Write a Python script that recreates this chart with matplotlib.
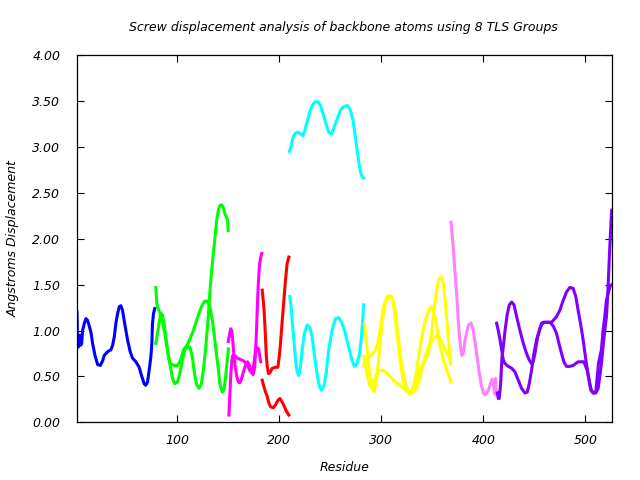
import matplotlib
matplotlib.use("Agg")
import matplotlib.pyplot as plt

# ------------------------------------------------------------
# Datos (residuo, desplazamiento en A)
# ------------------------------------------------------------

blue_x = [2, 2.5, 3.3, 4.3, 5.0, 5.6, 6.6, 7.5, 9.2, 10.8, 12.4, 14.0, 15.7, 17.3, 19.6,
          22.2, 24.8, 27.1, 28.7, 32.0, 35.2, 36.9, 38.5, 40.1, 41.7, 43.4, 45.0, 46.6,
          48.2, 49.9, 51.5, 54.1, 56.4, 59.7, 62.9, 65.2, 67.8, 69.4, 71.1, 72.7, 74.3,
          75.3, 75.9, 76.9, 78.2]
blue_y = [1.20, 0.95, 0.82, 0.85, 0.95, 0.84, 0.86, 1.00, 1.08, 1.13, 1.11, 1.05, 0.98,
          0.86, 0.73, 0.63, 0.62, 0.67, 0.73, 0.77, 0.79, 0.84, 0.93, 1.08, 1.18, 1.26,
          1.27, 1.22, 1.11, 1.00, 0.90, 0.77, 0.70, 0.66, 0.60, 0.51, 0.42, 0.405, 0.44,
          0.57, 0.71, 0.86, 1.07, 1.185, 1.24]

green1_x = [79.2, 80.2, 81.5, 83.4, 85.7, 88.0, 90.6, 92.9, 95.5, 97.8, 100.4, 103.0,
            105.3, 107.5, 110.1, 112.7, 115.0, 116.6, 119.2, 121.5, 123.8, 125.8, 128.1,
            130.3, 132.3, 133.6, 135.5, 137.2, 138.8, 140.4, 142.0, 143.7, 145.3, 146.9,
            148.2, 149.5, 150.0]
green1_y = [1.47, 1.29, 1.24, 1.19, 1.09, 0.97, 0.79, 0.64, 0.48, 0.42, 0.44, 0.55, 0.68,
            0.79, 0.82, 0.82, 0.71, 0.57, 0.41, 0.37, 0.42, 0.57, 0.82, 1.11, 1.44, 1.62,
            1.84, 2.02, 2.20, 2.31, 2.36, 2.37, 2.34, 2.27, 2.24, 2.20, 2.09]

green2_x = [79.2, 80.8, 82.4, 84.1, 85.7, 87.3, 89.0, 90.6, 92.2, 93.8, 97.1, 100.4,
            103.6, 106.2, 108.5, 110.8, 113.4, 116.0, 118.3, 121.5, 124.8, 127.1, 129.7,
            131.3, 132.9, 134.6, 136.2, 138.1, 140.1, 142.0, 144.3, 145.9, 147.6, 149.2,
            150.2]
green2_y = [0.86, 0.97, 1.08, 1.19, 1.17, 1.08, 0.93, 0.79, 0.68, 0.64, 0.62, 0.62, 0.68,
            0.79, 0.82, 0.86, 0.93, 1.00, 1.08, 1.19, 1.28, 1.32, 1.32, 1.29, 1.22, 1.11,
            0.97, 0.79, 0.61, 0.42, 0.33, 0.35, 0.50, 0.68, 0.80]

magenta1_x = [150.8, 151.5, 152.3, 153.2, 154.2, 155.5, 157.0, 159.0, 161.0, 163.0, 165.0,
              167.0, 169.0, 171.0, 173.0, 174.5, 176.0, 177.0, 178.0, 179.0, 180.0, 181.0,
              182.0]
magenta1_y = [0.08, 0.25, 0.45, 0.62, 0.72, 0.74, 0.72, 0.70, 0.69, 0.68, 0.67, 0.65, 0.62,
              0.57, 0.54, 0.58, 0.70, 0.80, 0.82, 0.78, 0.80, 0.72, 0.66]

magenta2_x = [150.2, 151.2, 152.5, 153.5, 154.5, 155.5, 157.0, 158.5, 160.0, 161.5, 163.0,
              165.0, 167.0, 169.0, 171.0, 173.0, 174.5, 176.0, 177.0, 178.0, 178.7, 179.5,
              180.8, 182.0, 183.0]
magenta2_y = [0.88, 0.95, 1.02, 1.00, 0.90, 0.75, 0.60, 0.50, 0.44, 0.43, 0.47, 0.55, 0.62,
              0.66, 0.62, 0.55, 0.52, 0.60, 0.80, 1.05, 1.28, 1.50, 1.72, 1.80, 1.84]

red1_x = [183.4, 184.4, 185.4, 186.4, 187.3, 188.3, 189.6, 190.9, 193.2, 196.4, 198.7,
          200.0, 201.3, 203.0, 204.6, 206.2, 207.8, 209.5]
red1_y = [1.44, 1.33, 1.19, 0.97, 0.75, 0.61, 0.53, 0.54, 0.59, 0.60, 0.60, 0.71, 0.86,
          1.11, 1.33, 1.55, 1.73, 1.80]

red2_x = [183.4, 185.0, 186.7, 188.3, 189.9, 191.6, 194.2, 196.4, 198.7, 200.7, 203.0,
          205.2, 207.2, 209.5]
red2_y = [0.46, 0.39, 0.33, 0.28, 0.21, 0.17, 0.16, 0.19, 0.24, 0.26, 0.22, 0.17, 0.12,
          0.08]

cyan1_x = [210.1, 211.7, 213.7, 216.0, 218.3, 220.9, 223.1, 225.1, 227.4, 230.0, 232.3,
           234.9, 238.1, 240.4, 243.0, 245.9, 248.5, 251.2, 253.4, 256.7, 260.0, 263.2,
           267.1, 269.7, 272.3, 274.6, 276.9, 278.8, 280.5, 282.7]
cyan1_y = [2.95, 3.01, 3.11, 3.15, 3.16, 3.14, 3.12, 3.18, 3.27, 3.38, 3.45, 3.49, 3.49,
           3.45, 3.36, 3.25, 3.16, 3.14, 3.20, 3.30, 3.40, 3.44, 3.45, 3.40, 3.29, 3.11,
           2.92, 2.78, 2.69, 2.66]

cyan2_x = [210.4, 211.7, 213.0, 214.4, 216.0, 217.6, 219.2, 220.9, 222.5, 224.8, 227.4,
           230.0, 232.3, 233.9, 236.5, 238.8, 241.1, 243.7, 246.0, 248.5, 251.8, 255.1,
           258.3, 261.6, 264.8, 268.1, 271.3, 273.6, 276.2, 278.8, 280.5, 281.8, 282.7]
cyan2_y = [1.37, 1.26, 1.08, 0.90, 0.68, 0.55, 0.51, 0.61, 0.79, 0.97, 1.06, 1.04, 0.93,
           0.79, 0.57, 0.42, 0.35, 0.39, 0.53, 0.79, 1.00, 1.13, 1.14, 1.08, 0.97, 0.82,
           0.68, 0.61, 0.64, 0.75, 0.93, 1.11, 1.28]

yellow1_x = [283.4, 285.4, 287.0, 288.6, 290.9, 293.2, 295.1, 297.4, 299.0, 301.6, 303.9,
             306.2, 308.8, 310.8, 312.7, 314.7, 317.0, 319.2, 321.8, 324.4, 326.7, 329.0,
             331.6, 334.2, 336.5, 339.7, 343.0, 346.3, 349.5, 351.8, 354.4, 357.0, 360.9,
             364.2, 366.5, 368.1]
yellow1_y = [1.07, 0.89, 0.71, 0.53, 0.39, 0.33, 0.44, 0.68, 0.89, 1.15, 1.29, 1.37, 1.38,
             1.35, 1.22, 1.04, 0.82, 0.60, 0.44, 0.35, 0.32, 0.32, 0.39, 0.53, 0.71, 0.93,
             1.11, 1.22, 1.26, 1.20, 1.04, 0.86, 0.68, 0.57, 0.50, 0.44]

yellow2_x = [282.7, 286.0, 290.0, 294.0, 297.4, 299.7, 302.3, 304.9, 308.1, 310.8, 313.4,
             315.5, 318.0, 320.5, 323.0, 326.0, 329.0, 331.5, 334.0, 337.0, 340.0, 343.0,
             346.3, 349.5, 352.8, 356.0, 358.6, 360.9, 362.5, 364.2, 365.8, 367.4, 368.0]
yellow2_y = [0.64, 0.68, 0.73, 0.78, 0.89, 1.08, 1.26, 1.35, 1.38, 1.36, 1.24, 1.04, 0.80,
             0.60, 0.45, 0.35, 0.33, 0.37, 0.45, 0.55, 0.62, 0.68, 0.75, 1.00, 1.33, 1.55,
             1.59, 1.51, 1.33, 1.11, 0.90, 0.68, 0.64]

yellow3_x = [283.0, 284.5, 286.5, 288.5, 290.5, 292.5, 295.0, 298.0, 301.0, 304.0, 307.0,
             310.0, 313.0, 316.0, 319.0, 322.0, 325.0, 328.0, 331.0, 334.0, 337.0, 340.0,
             343.0, 346.0, 349.0, 352.0, 354.5, 357.0, 360.0, 363.0, 366.0, 368.0]
yellow3_y = [0.72, 0.62, 0.50, 0.40, 0.38, 0.45, 0.52, 0.56, 0.57, 0.55, 0.52, 0.48, 0.45,
             0.42, 0.40, 0.37, 0.34, 0.32, 0.32, 0.36, 0.45, 0.58, 0.72, 0.82, 0.88, 0.92,
             0.95, 0.93, 0.85, 0.78, 0.72, 0.68]

pink_x = [368.4, 370.7, 372.3, 374.0, 375.6, 377.2, 378.8, 380.4, 382.1, 385.3, 388.0,
          390.2, 392.5, 395.1, 397.7, 400.0, 402.3, 404.9, 407.5, 408.8, 410.1, 411.0,
          412.0, 412.8]
pink_y = [2.18, 1.87, 1.62, 1.37, 1.08, 0.86, 0.73, 0.75, 0.90, 1.06, 1.08, 1.00, 0.82,
          0.61, 0.42, 0.32, 0.30, 0.35, 0.44, 0.47, 0.40, 0.31, 0.48, 0.30]

purple1_x = [413.0, 414.6, 416.3, 417.9, 419.5, 421.2, 424.4, 427.7, 430.9, 434.2, 437.4,
             440.7, 443.0, 444.9, 447.2, 449.5, 452.1, 454.7, 457.0, 460.2, 463.5, 466.8,
             471.6, 474.9, 478.2, 481.4, 484.7, 487.9, 490.5, 492.8, 495.1, 497.7, 500.0,
             501.9, 503.6, 505.2, 507.5, 510.1, 512.4, 514.0, 515.6, 517.2, 518.9, 520.5,
             521.5, 522.1, 523.1, 524.1, 525.1, 525.7]
purple1_y = [1.08, 1.00, 0.90, 0.79, 0.68, 0.64, 0.61, 0.59, 0.55, 0.46, 0.37, 0.32, 0.33,
             0.42, 0.57, 0.75, 0.90, 1.00, 1.08, 1.09, 1.09, 1.09, 1.15, 1.22, 1.33, 1.42,
             1.47, 1.46, 1.37, 1.22, 1.08, 0.90, 0.71, 0.57, 0.46, 0.35, 0.32, 0.32, 0.37,
             0.50, 0.64, 0.82, 1.00, 1.15, 1.33, 1.47, 1.73, 1.98, 2.20, 2.31]

purple2_x = [413.7, 414.6, 415.5, 416.9, 418.2, 419.5, 421.2, 423.4, 425.4, 427.7, 430.0,
             432.6, 435.8, 439.1, 442.3, 444.9, 447.2, 448.8, 450.5, 453.1, 456.0, 458.6,
             461.9, 465.1, 468.4, 471.6, 474.9, 478.8, 481.4, 484.7, 487.9, 492.8, 498.3,
             501.6, 504.2, 505.8, 508.1, 510.1, 512.7, 514.0, 515.6, 517.2, 518.9, 520.5,
             522.1, 524.4, 526.0]
purple2_y = [0.32, 0.26, 0.26, 0.42, 0.71, 0.82, 1.00, 1.18, 1.28, 1.31, 1.28, 1.15, 1.00,
             0.86, 0.75, 0.68, 0.64, 0.66, 0.75, 0.93, 1.04, 1.09, 1.09, 1.09, 1.05, 0.97,
             0.82, 0.66, 0.61, 0.61, 0.62, 0.66, 0.66, 0.57, 0.42, 0.35, 0.32, 0.33, 0.64,
             0.71, 0.79, 1.00, 1.15, 1.33, 1.40, 1.49, 1.50]

grupos = [
    (blue_x, blue_y, "#0000ff"),
    (green1_x, green1_y, "#00ff00"),
    (green2_x, green2_y, "#00ff00"),
    (magenta1_x, magenta1_y, "#ff00ff"),
    (magenta2_x, magenta2_y, "#ff00ff"),
    (red1_x, red1_y, "#ff0000"),
    (red2_x, red2_y, "#ff0000"),
    (cyan1_x, cyan1_y, "#00ffff"),
    (cyan2_x, cyan2_y, "#00ffff"),
    (yellow1_x, yellow1_y, "#ffff00"),
    (yellow2_x, yellow2_y, "#ffff00"),
    (yellow3_x, yellow3_y, "#ffff00"),
    (pink_x, pink_y, "#ff80ff"),
    (purple1_x, purple1_y, "#8000ff"),
    (purple2_x, purple2_y, "#8000ff"),
]

x_ticks = [100, 200, 300, 400, 500]
y_ticks = [0.0, 0.5, 1.0, 1.5, 2.0, 2.5, 3.0, 3.5, 4.0]

# ------------------------------------------------------------
# Grafico
# ------------------------------------------------------------

plt.rcParams["font.family"] = "DejaVu Sans"
plt.rcParams["font.style"] = "italic"

fig = plt.figure(figsize=(6.4, 4.8), dpi=100)
ax = fig.add_axes([0.1203, 0.120, 0.8360, 0.7654])

for xs, ys, color in grupos:
    ax.plot(xs, ys, color=color, linewidth=2.2, solid_joinstyle="round")

ax.set_xlim(2, 526)
ax.set_ylim(0, 4)
ax.set_xticks(x_ticks)
ax.set_yticks(y_ticks)
ax.set_yticklabels([f"{v:.2f}" for v in y_ticks])

ax.tick_params(direction="in", length=5, width=0.8, top=True, right=True,
               labelsize=9)
ax.tick_params(axis="y", pad=12)
ax.tick_params(axis="x", pad=8)
for spine in ax.spines.values():
    spine.set_linewidth(0.9)

fig.text(0.537, 0.943, "Screw displacement analysis of backbone atoms using 8 TLS Groups",
         ha="center", va="center", fontsize=9, style="italic")
fig.text(0.538, 0.027, "Residue", ha="center", va="center", fontsize=9, style="italic")
fig.text(0.021, 0.503, "Angstroms Displacement", ha="center", va="center",
         rotation=90, fontsize=9, style="italic")

fig.savefig("out.png", dpi=100)
